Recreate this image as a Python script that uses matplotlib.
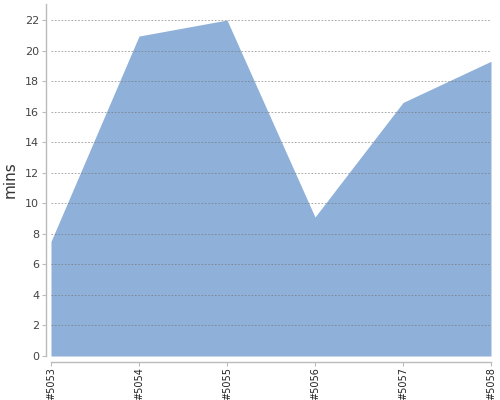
import matplotlib
matplotlib.use("Agg")
import matplotlib.pyplot as plt

# build numbers and durations
builds = ["#5053", "#5054", "#5055", "#5056", "#5057", "#5058"]
mins = [7.5, 20.95, 22.0, 9.1, 16.6, 19.3]
yticks = list(range(0, 23, 2))

fig = plt.figure(figsize=(5, 4), dpi=100)
ax = fig.add_axes([51 / 500, 44 / 400, 440 / 500, 352 / 400])

xs = list(range(len(builds)))
ax.fill_between(xs, 0, mins, color="#8EB0D9", linewidth=0, zorder=1)

ax.set_xlim(0, len(builds) - 1)
ax.set_ylim(0, 23.05)
ax.set_yticks(yticks)
ax.set_xticks(xs, builds)
ax.tick_params(axis="y", labelsize=8, labelcolor="#444444", color="#BBBBBB", length=3, pad=2)
ax.tick_params(axis="x", labelsize=7, labelcolor="#222222", labelrotation=90,
               color="#BBBBBB", length=3, pad=1)

ax.yaxis.grid(True, linestyle=(0, (2, 2)), color="#777777", linewidth=0.6, alpha=0.75)
ax.set_axisbelow(False)

for side in ("top", "right"):
    ax.spines[side].set_visible(False)
ax.spines["left"].set_position(("outward", 3.5))
ax.spines["bottom"].set_position(("outward", 4))
for side in ("left", "bottom"):
    ax.spines[side].set_color("#BBBBBB")
    ax.spines[side].set_linewidth(1)

ax.set_ylabel("mins", fontsize=11, color="#333333", labelpad=5)

fig.savefig("out.png", dpi=100)
